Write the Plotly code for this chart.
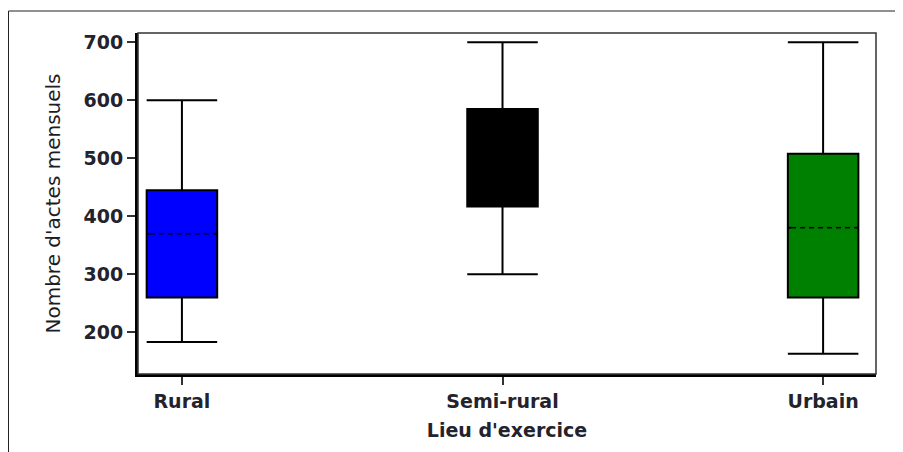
import plotly.graph_objects as go

categories = ["Rural", "Semi-rural", "Urbain"]
q1 = [260, 417, 260]
median = [370, 500, 380]
q3 = [445, 585, 508]
lower = [183, 300, 163]
upper = [600, 700, 700]
fills = ["#0000FF", "#000000", "#008000"]
y_ticks = [200, 300, 400, 500, 600, 700]

BOX_W = 0.22
fig = go.Figure()
for i, cat in enumerate(categories):
    fig.add_trace(go.Box(
        x=[i], q1=[q1[i]], median=[median[i]], q3=[q3[i]],
        lowerfence=[lower[i]], upperfence=[upper[i]],
        width=BOX_W, whiskerwidth=1,
        fillcolor=fills[i], line=dict(color="black", width=2),
        name=cat, showlegend=False, boxpoints=False,
    ))
    # cover the solid median with fill colour, then draw a dashed median
    fig.add_trace(go.Scatter(
        x=[i - BOX_W / 2 + 0.01, i + BOX_W / 2 - 0.01], y=[median[i], median[i]],
        mode="lines", line=dict(color=fills[i], width=3),
        showlegend=False, hoverinfo="skip"))
    fig.add_trace(go.Scatter(
        x=[i - BOX_W / 2 + 0.01, i + BOX_W / 2 - 0.01], y=[median[i], median[i]],
        mode="lines", line=dict(color="black", width=1.5, dash="5px,4px"),
        showlegend=False, hoverinfo="skip"))

FAM = "DejaVu Sans, Verdana, sans-serif"
TICKFONT = dict(family=FAM, size=19, color="#23232d", weight="bold")
fig.update_layout(
    width=895, height=444,
    margin=dict(l=130, r=27, t=25, b=78),
    plot_bgcolor="white", paper_bgcolor="white",
    font=dict(family=FAM, color="#222"),
    xaxis=dict(
        range=[-0.137, 2.165], tickmode="array", tickvals=[0, 1, 2], ticktext=categories,
        showgrid=False, zeroline=False, showline=True, linecolor="black", linewidth=3,
        ticks="outside", ticklen=8, tickwidth=1.5, tickcolor="#333",
        tickfont=TICKFONT, automargin=False,
        title=dict(text="Lieu d'exercice",
                   font=dict(family=FAM, size=19, color="#23232d", weight="bold"),
                   standoff=13),
    ),
    yaxis=dict(
        range=[128, 716], tickvals=y_ticks,
        showgrid=False, zeroline=False, showline=True, linecolor="black", linewidth=3,
        ticks="outside", ticklen=8, tickwidth=1.5, tickcolor="#333",
        tickfont=TICKFONT, automargin=False,
        title=dict(text="Nombre d'actes mensuels",
                   font=dict(family=FAM, size=20, color="#1c1c24"),
                   standoff=18),
    ),
    shapes=[
        dict(type="rect", xref="paper", yref="paper", x0=0, x1=1, y0=0, y1=1,
             line=dict(color="#333", width=1.5), layer="above"),
        dict(type="line", xref="paper", yref="paper",
             x0=-129.5 / 738, x1=1.04, y0=1 + 22 / 341, y1=1 + 22 / 341,
             line=dict(color="#222", width=1)),
        dict(type="line", xref="paper", yref="paper",
             x0=-129.5 / 738, x1=-129.5 / 738, y0=1 + 22 / 341, y1=-0.23,
             line=dict(color="#222", width=1)),
    ],
)

fig.write_html("out.html")
